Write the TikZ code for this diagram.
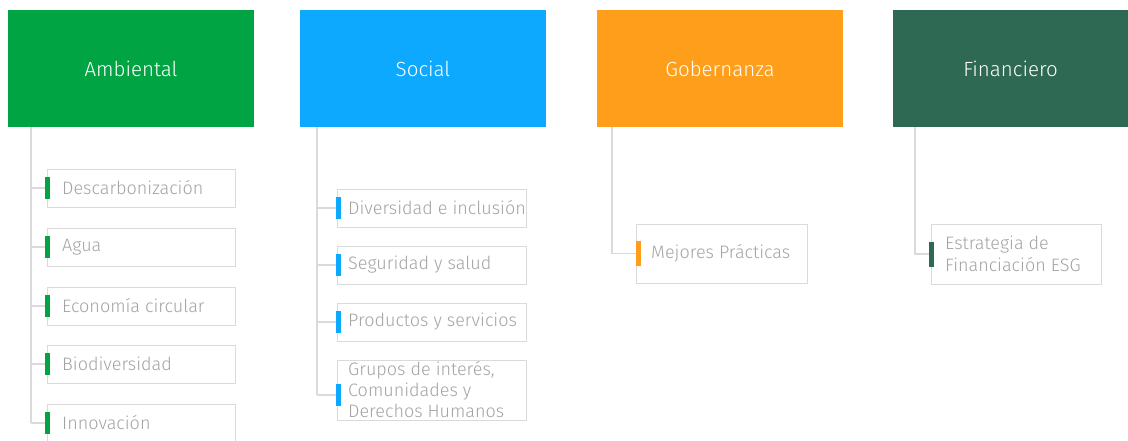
\documentclass[tikz,border=0pt]{standalone}
\usepackage{fontspec}
\setmainfont{Fira Sans}[UprightFont={* Light}]
\definecolor{cAmb}{HTML}{00A443}
\definecolor{cSoc}{HTML}{0DA9FF}
\definecolor{cGob}{HTML}{FF9E1B}
\definecolor{cFin}{HTML}{2E6A53}
\definecolor{cLine}{HTML}{DADADA}
\definecolor{cTxt}{HTML}{A3A3A3}
\tikzset{
  hdr/.style={anchor=north west, minimum width=246pt, minimum height=117pt, inner sep=0pt, outer sep=0pt, text=white, font=\fontsize{20.5}{24}\selectfont},
  itembox/.style={draw=cLine, line width=1pt, anchor=north west, inner sep=0pt, outer sep=0pt},
  itemtxt/.style={anchor=west, inner sep=0pt, text=cTxt, align=left, font=\fontsize{18}{21}\selectfont},
  conn/.style={draw=cLine, line width=1.2pt},
  tick/.style={minimum width=5pt, minimum height=22pt, inner sep=0pt, outer sep=0pt, anchor=center}
}
\begin{document}
\begin{tikzpicture}[x=1pt,y=-1pt]
\useasboundingbox (0,0) rectangle (1128,440);
% headers
\node[hdr, fill=cAmb] (hA) at (8,10) {Ambiental};
\node[hdr, fill=cSoc] (hS) at (300,10) {Social};
\node[hdr, fill=cGob] (hG) at (597,10) {Gobernanza};
\node[hdr, fill=cFin, minimum width=235pt] (hF) at (893,10) {Financiero};
% trunk coordinates
\coordinate (tA) at (31,127);
\coordinate (tS) at (317,127);
\coordinate (tG) at (612,127);
\coordinate (tF) at (915,127);
% Ambiental items
\node[itembox, minimum width=188pt, minimum height=38pt] (a1) at (47,169) {};
\node[itembox, minimum width=188pt, minimum height=38pt] (a2) at (47,228) {};
\node[itembox, minimum width=188pt, minimum height=38pt] (a3) at (47,287) {};
\node[itembox, minimum width=188pt, minimum height=38pt] (a4) at (47,345) {};
\node[itembox, minimum width=188pt, minimum height=38pt] (a5) at (47,404) {};
\foreach \n/\t in {a1/Descarbonización, a2/Agua, a3/Economía circular, a4/Biodiversidad, a5/Innovación}{
  \node[itemtxt] at ([xshift=15pt]\n.west) {\t};
  \draw[conn] (tA |- \n.west) -- (\n.west);
  \node[tick, fill=cAmb] at ([xshift=0pt]\n.west) {};
}
\draw[conn] (tA) -- (tA |- a5.west);
% Social items
\node[itembox, minimum width=189pt, minimum height=38pt] (s1) at (337,189) {};
\node[itembox, minimum width=189pt, minimum height=38pt] (s2) at (337,246) {};
\node[itembox, minimum width=189pt, minimum height=38pt] (s3) at (337,303) {};
\node[itembox, minimum width=189pt, minimum height=60pt] (s4) at (337,360) {};
\foreach \n/\t in {s1/Diversidad e inclusión, s2/Seguridad y salud, s3/Productos y servicios}{
  \node[itemtxt] at ([xshift=11pt]\n.west) {\t};
  \draw[conn] (tS |- \n.west) -- (\n.west);
  \node[tick, fill=cSoc] at ([xshift=1pt]\n.west) {};
}
\node[itemtxt] at ([xshift=11pt]s4.west) {Grupos de interés,\\Comunidades y\\Derechos Humanos};
\coordinate (s4b) at ([yshift=-5pt]s4.west);
\draw[conn] (tS |- s4b) -- (s4b);
\node[tick, fill=cSoc] at ([xshift=1pt]s4b) {};
\draw[conn] (tS) -- (tS |- s4b);
% Gobernanza
\node[itembox, minimum width=171pt, minimum height=59pt] (g1) at (636,224) {};
\node[itemtxt] at ([xshift=15pt]g1.west) {Mejores Prácticas};
\draw[conn] (tG) |- (g1.west);
\node[tick, fill=cGob, minimum height=25pt] at ([xshift=2pt]g1.west) {};
% Financiero
\node[itembox, minimum width=170pt, minimum height=60pt] (f1) at (931,224) {};
\node[itemtxt, font=\fontsize{18}{22}\selectfont] at ([xshift=14pt]f1.west) {Estrategia de\\Financiación ESG};
\draw[conn] (tF) |- (f1.west);
\node[tick, fill=cFin, minimum height=25pt] at ([xshift=0pt]f1.west) {};
\end{tikzpicture}
\end{document}
